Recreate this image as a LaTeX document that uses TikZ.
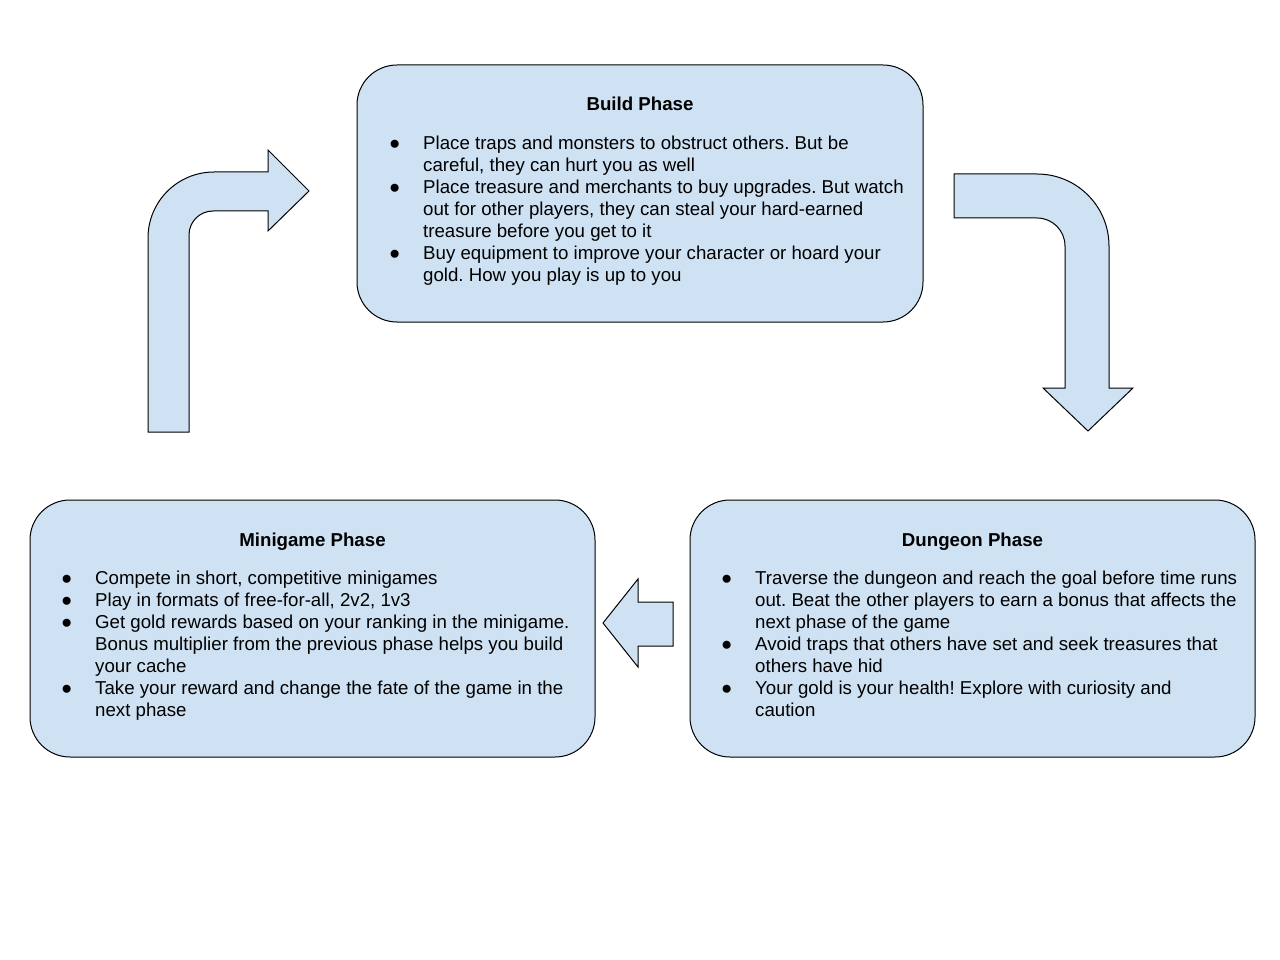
\documentclass[tikz,border=0pt]{standalone}
\usepackage{fontspec}
\setmainfont{Liberation Sans}
\frenchspacing
\definecolor{phasefill}{HTML}{CFE2F3}
\newcommand\bul{\makebox[34pt][l]{●}}
\newcommand\ind{\hspace*{34pt}}
\begin{document}
\begin{tikzpicture}[x=1pt,y=-1pt,
  phasebox/.style={draw=black,line width=1pt,fill=phasefill,rounded corners=40pt},
  blockarrow/.style={draw=black,line width=1pt,fill=phasefill,line join=miter},
  title/.style={anchor=base,inner sep=0pt,font=\fontsize{18.67}{22}\selectfont\bfseries},
  items/.style={anchor=base west,inner sep=0pt,font=\fontsize{18.67}{22}\selectfont}]
\useasboundingbox (0,0) rectangle (1280,960);

% phase boxes
\draw[phasebox] (357,65) rectangle (923,322);
\draw[phasebox] (30,500) rectangle (595,757);
\draw[phasebox] (690,500) rectangle (1255,757);

% build phase
\node[title] (buildt) at (640,111) {Build Phase};
\node[items] (buildl) at (389,150) {\begin{tabular}[t]{@{}l@{}}
\bul Place traps and monsters to obstruct others. But be\\
\ind careful, they can hurt you as well\\
\bul Place treasure and merchants to buy upgrades. But watch\\
\ind out for other players, they can steal your hard-earned\\
\ind treasure before you get to it\\
\bul Buy equipment to improve your character or hoard your\\
\ind gold. How you play is up to you
\end{tabular}};

% minigame phase
\node[title] (minit) at (312.5,546) {Minigame Phase};
\node[items] (minil) at (61,584) {\begin{tabular}[t]{@{}l@{}}
\bul Compete in short, competitive minigames\\
\bul Play in formats of free-for-all, 2v2, 1v3\\
\bul Get gold rewards based on your ranking in the minigame.\\
\ind Bonus multiplier from the previous phase helps you build\\
\ind your cache\\
\bul Take your reward and change the fate of the game in the\\
\ind next phase
\end{tabular}};

% dungeon phase
\node[title] (dungt) at (972.5,546) {Dungeon Phase};
\node[items] (dungl) at (721,584) {\begin{tabular}[t]{@{}l@{}}
\bul Traverse the dungeon and reach the goal before time runs\\
\ind out. Beat the other players to earn a bonus that affects the\\
\ind next phase of the game\\
\bul Avoid traps that others have set and seek treasures that\\
\ind others have hid\\
\bul Your gold is your health! Explore with curiosity and\\
\ind caution
\end{tabular}};

% bent arrow: minigame -> build
\draw[blockarrow] (148,432) -- (148,238)
  .. controls (148,201.5) and (177.5,172) .. (214,172)
  -- (268,172) -- (268,150) -- (309,191) -- (268,231) -- (268,211) -- (213,211)
  .. controls (199.7,211) and (189,221.7) .. (189,235)
  -- (189,432) -- cycle;

% bent arrow: build -> dungeon
\draw[blockarrow] (954,174) -- (1037,174)
  .. controls (1076.8,174) and (1109,206.2) .. (1109,246)
  -- (1109,388) -- (1133,388) -- (1088,431) -- (1043,388) -- (1065,388) -- (1065,246)
  .. controls (1065,230.5) and (1052.5,218) .. (1037,218)
  -- (954,218) -- cycle;

% straight arrow: dungeon -> minigame
\draw[blockarrow] (673,602) -- (638,602) -- (638,579) -- (603,623)
  -- (638,667) -- (638,646) -- (673,646) -- cycle;
\end{tikzpicture}
\end{document}
